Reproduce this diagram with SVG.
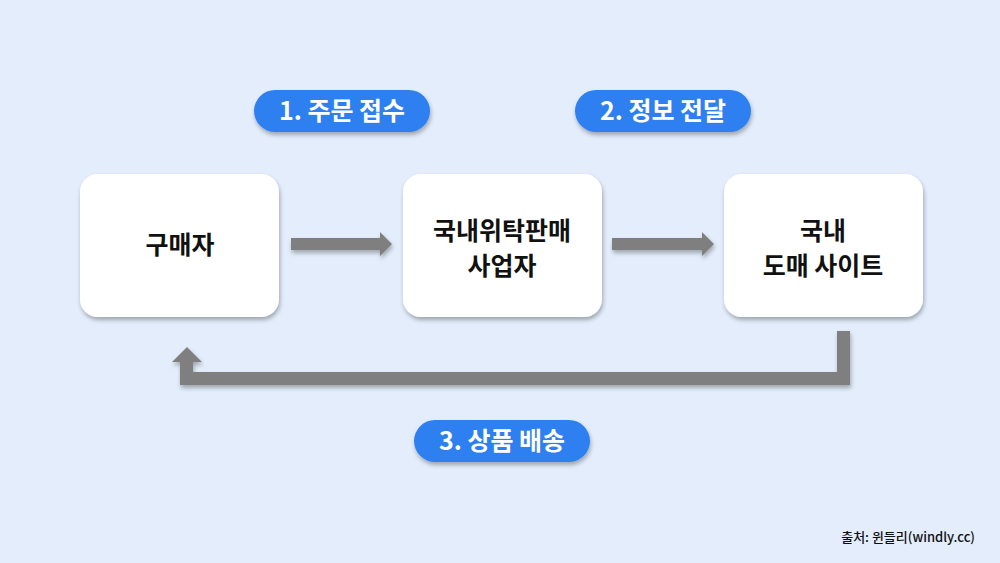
<svg xmlns="http://www.w3.org/2000/svg" width="1000" height="563" viewBox="0 0 1000 563">
<defs>
<style>
.box{fill:#fff}
.pill{fill:#2f7ff0}
.t{font-family:"Noto Sans CJK KR","Noto Sans",sans-serif;font-weight:700;font-size:25px;fill:#111;text-anchor:middle}
.p{font-family:"Noto Sans CJK KR","Noto Sans",sans-serif;font-weight:700;font-size:25px;fill:#fff;text-anchor:middle}
.arr{fill:#7f7f7f}
</style>
<filter id="sh" x="-20%" y="-20%" width="140%" height="140%"><feDropShadow dx="1" dy="3" stdDeviation="2" flood-color="#000" flood-opacity="0.3"/></filter>
</defs>
<rect width="1000" height="563" fill="#e3edfb"/>
<g id="node-buyer"><rect class="box" x="80" y="174" width="199" height="143" rx="18" filter="url(#sh)"/><text class="t" x="180" y="254">구매자</text></g>
<g id="node-seller"><rect class="box" x="403" y="174" width="199" height="143" rx="18" filter="url(#sh)"/><text class="t" x="502" y="240">국내위탁판매</text><text class="t" x="502" y="275">사업자</text></g>
<g id="node-wholesale"><rect class="box" x="724" y="174" width="199" height="143" rx="18" filter="url(#sh)"/><text class="t" x="823" y="240">국내</text><text class="t" x="823" y="275">도매 사이트</text></g>
<g id="label-1"><rect class="pill" x="254" y="90" width="176" height="42" rx="21" filter="url(#sh)"/><text class="p" x="342" y="120">1. 주문 접수</text></g>
<g id="label-2"><rect class="pill" x="575" y="90" width="176" height="42" rx="21" filter="url(#sh)"/><text class="p" x="663" y="120">2. 정보 전달</text></g>
<g id="label-3"><rect class="pill" x="414" y="420" width="176" height="42" rx="21" filter="url(#sh)"/><text class="p" x="502" y="450">3. 상품 배송</text></g>
<g id="connectors" filter="url(#sh)">
<polygon class="arr" points="291,238 380,238 380,232 392,244 380,256 380,250 291,250"/>
<polygon class="arr" points="612,238 702,238 702,232 714,244 702,256 702,250 612,250"/>
<polygon class="arr" points="837,331 850,331 850,385 180,385 180,362 172,362 187,347 202,362 193,362 193,372 837,372"/>
</g>
<text x="975" y="542" font-family="'Noto Sans CJK KR','Noto Sans',sans-serif" font-size="13" font-weight="500" fill="#111" text-anchor="end">출처: 윈들리(windly.cc)</text>
</svg>
